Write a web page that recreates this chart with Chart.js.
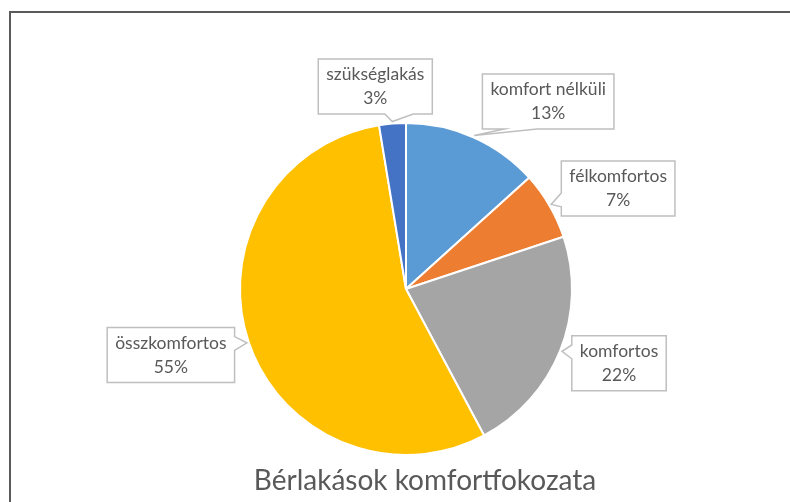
<!DOCTYPE html>
<html><head><meta charset="utf-8">
<script src="https://cdn.jsdelivr.net/npm/chart.js@4.4.1/dist/chart.umd.min.js"></script>
<style>html,body{margin:0;padding:0;background:#fff;} #wrap{width:790px;height:502px;position:relative;}</style>
</head><body><div id="wrap"><canvas id="c"></canvas></div>
<script>
// ---- data ----
const categories = ['komfort nélküli', 'félkomfortos', 'komfortos', 'összkomfortos', 'szükséglakás'];
const shares = [13.3, 6.6, 22.3, 55.2, 2.6];
const percentLabels = ['13%', '7%', '22%', '55%', '3%'];
const sliceColors = ['#5B9BD5', '#ED7D31', '#A5A5A5', '#FFC000', '#4472C4'];
const chartTitle = 'Bérlakások komfortfokozata';

// ---- frame + title ----
const framePlugin = {
  id: 'frame',
  beforeDraw(chart, args, o) {
    const ctx = chart.ctx;
    ctx.save();
    ctx.fillStyle = '#fff';
    ctx.fillRect(0, 0, chart.width, chart.height);
    ctx.strokeStyle = o.color; ctx.lineWidth = o.width;
    ctx.strokeRect(o.left, o.top, o.frameWidth, o.frameHeight);
    ctx.restore();
  },
  afterDraw(chart, args, o) {
    const ctx = chart.ctx;
    ctx.save();
    ctx.font = o.titleFont;
    ctx.fillStyle = o.titleColor;
    ctx.textAlign = 'center';
    ctx.textBaseline = 'alphabetic';
    ctx.fillText(chartTitle, o.left + o.frameWidth / 2, o.titleBaseline);
    ctx.restore();
  }
};

// ---- Excel-like wedge callouts ----
const calloutPlugin = {
  id: 'callouts',
  afterDatasetsDraw(chart, args, o) {
    const ctx = chart.ctx;
    const meta = chart.getDatasetMeta(0);
    meta.data.forEach((arc, i) => {
      const p = arc.getProps(['x', 'y', 'startAngle', 'endAngle', 'outerRadius'], true);
      const mid = (p.startAngle + p.endAngle) / 2;
      const tx = p.x + Math.cos(mid) * (p.outerRadius + o.tipGap);
      const ty = p.y + Math.sin(mid) * (p.outerRadius + o.tipGap);
      const off = o.offsets[i];
      const cx = tx + off[0], cy = ty + off[1];
      ctx.save();
      ctx.font = o.font;
      const lines = [categories[i], percentLabels[i]];
      const tw = Math.max(...lines.map(s => ctx.measureText(s).width));
      const w = tw + 2 * o.padX, h = o.boxHeight;
      const l = cx - w / 2, t = cy - h / 2, r = l + w, b = t + h;
      const dx = tx - cx, dy = ty - cy;
      const dq = dx * h / w;
      ctx.beginPath();
      if (Math.abs(dy) > Math.abs(dq)) {
        const x1 = l + w * (dx > 0 ? 7 : 2) / 12, x2 = l + w * (dx > 0 ? 10 : 5) / 12;
        if (dy < 0) {
          ctx.moveTo(l, t); ctx.lineTo(x1, t); ctx.lineTo(tx, ty); ctx.lineTo(x2, t);
          ctx.lineTo(r, t); ctx.lineTo(r, b); ctx.lineTo(l, b);
        } else {
          ctx.moveTo(l, t); ctx.lineTo(r, t); ctx.lineTo(r, b); ctx.lineTo(x2, b);
          ctx.lineTo(tx, ty); ctx.lineTo(x1, b); ctx.lineTo(l, b);
        }
      } else {
        const y1 = t + h * (dy > 0 ? 7 : 2) / 12, y2 = t + h * (dy > 0 ? 10 : 5) / 12;
        if (dx < 0) {
          ctx.moveTo(l, t); ctx.lineTo(r, t); ctx.lineTo(r, b); ctx.lineTo(l, b);
          ctx.lineTo(l, y2); ctx.lineTo(tx, ty); ctx.lineTo(l, y1);
        } else {
          ctx.moveTo(l, t); ctx.lineTo(r, t); ctx.lineTo(r, y1); ctx.lineTo(tx, ty);
          ctx.lineTo(r, y2); ctx.lineTo(r, b); ctx.lineTo(l, b);
        }
      }
      ctx.closePath();
      ctx.fillStyle = '#fff'; ctx.fill();
      ctx.strokeStyle = o.borderColor; ctx.lineWidth = o.borderWidth; ctx.stroke();
      ctx.fillStyle = o.color;
      ctx.textAlign = 'center'; ctx.textBaseline = 'middle';
      ctx.fillText(lines[0], cx, cy - o.lineGap / 2);
      ctx.fillText(lines[1], cx, cy + o.lineGap / 2);
      ctx.restore();
    });
  }
};

new Chart(document.getElementById('c'), {
  type: 'pie',
  data: {
    labels: categories,
    datasets: [{
      data: shares,
      backgroundColor: sliceColors,
      borderColor: '#ffffff',
      borderWidth: 2
    }]
  },
  options: {
    responsive: true,
    maintainAspectRatio: false,
    animation: false,
    layout: { padding: { left: 239, right: 217, top: 122, bottom: 46 } },
    plugins: {
      legend: { display: false },
      tooltip: { enabled: false },
      title: { display: false },
      frame: {
        left: 10, top: 12, frameWidth: 830, frameHeight: 520, color: '#5a5a5a', width: 2,
        titleFont: '28px Lato', titleColor: '#595959', titleBaseline: 490
      },
      callouts: {
        tipGap: 2,
        offsets: [[74, -34], [67, -16], [57, 12], [-76, 12], [-17, -35]],
        font: '17.5px Lato', color: '#595959', borderColor: '#BFBFBF', borderWidth: 1.5,
        padX: 8, boxHeight: 55, lineGap: 24
      }
    }
  },
  plugins: [framePlugin, calloutPlugin]
});
</script>
</body></html>
